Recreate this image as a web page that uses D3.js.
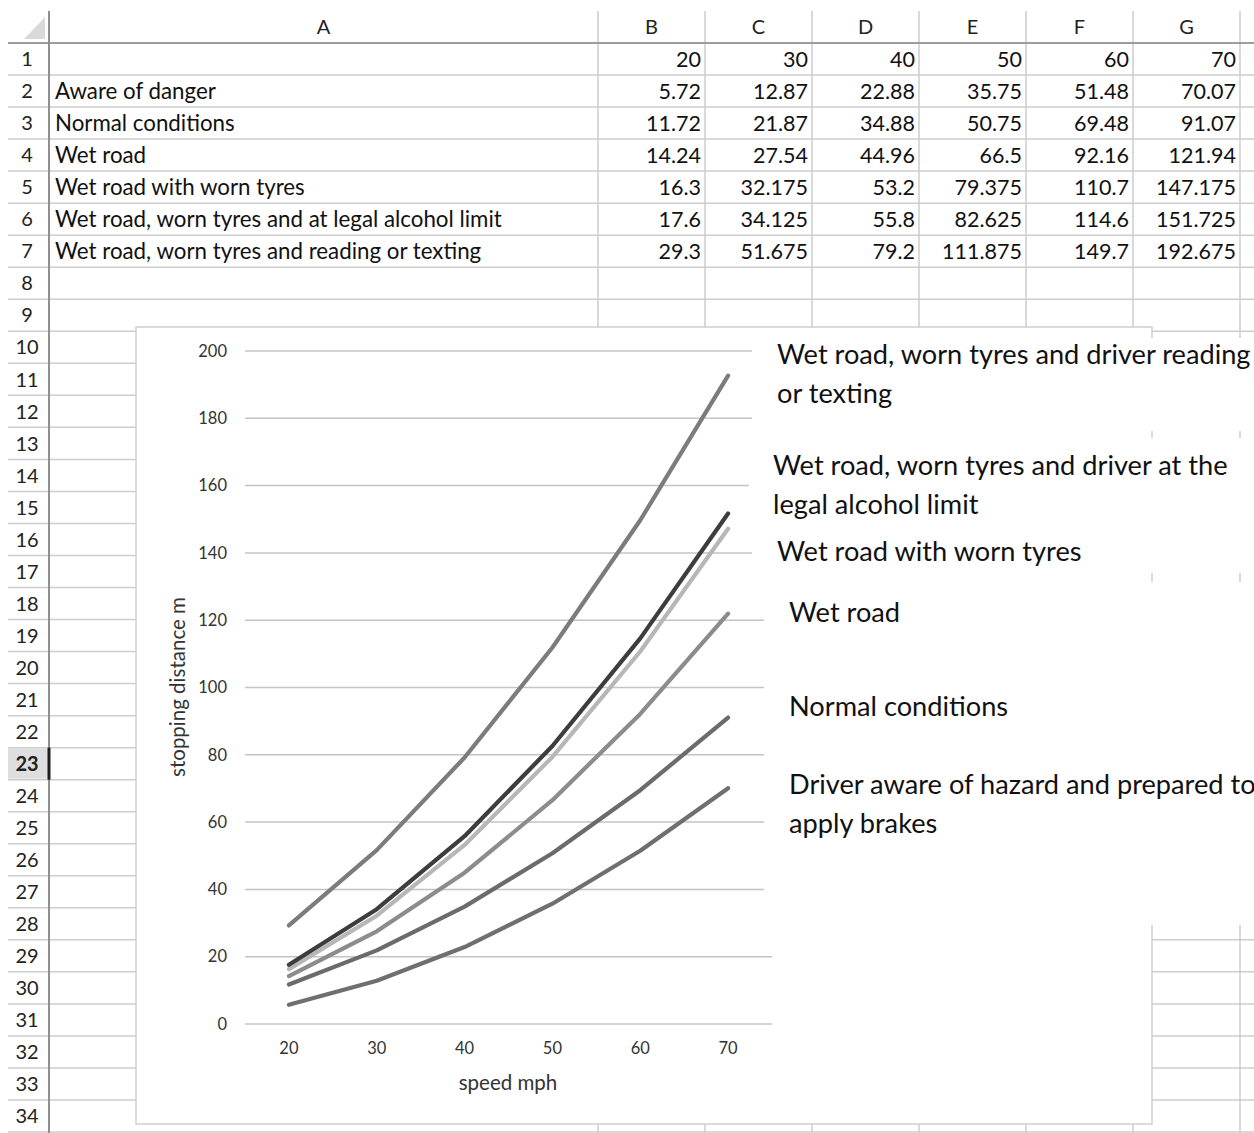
<!DOCTYPE html>
<html>
<head>
<meta charset="utf-8">
<script src="https://cdn.jsdelivr.net/npm/d3@7"></script>
<style>
  body { margin: 0; background: #fff; }
  svg { display: block; font-family: Lato, "Open Sans", sans-serif; }
</style>
</head>
<body>
<svg id="sheet" width="1254" height="1133"></svg>
<script>
// ---- data ----
const speeds = [20, 30, 40, 50, 60, 70];
const tableLabels = [
  "Aware of danger",
  "Normal conditions",
  "Wet road",
  "Wet road with worn tyres",
  "Wet road, worn tyres and at legal alcohol limit",
  "Wet road, worn tyres and reading or texting"
];
const awareOfDanger    = [5.72, 12.87, 22.88, 35.75, 51.48, 70.07];
const normalConditions = [11.72, 21.87, 34.88, 50.75, 69.48, 91.07];
const wetRoad          = [14.24, 27.54, 44.96, 66.5, 92.16, 121.94];
const wornTyres        = [16.3, 32.175, 53.2, 79.375, 110.7, 147.175];
const alcoholLimit     = [17.6, 34.125, 55.8, 82.625, 114.6, 151.725];
const readingTexting   = [29.3, 51.675, 79.2, 111.875, 149.7, 192.675];
const yTicks = [0, 20, 40, 60, 80, 100, 120, 140, 160, 180, 200];
const columnLetters = ["A", "B", "C", "D", "E", "F", "G"];
const noteTexts = [
  ["Wet road, worn tyres and driver reading", "or texting"],
  ["Wet road, worn tyres and driver at the", "legal alcohol limit"],
  ["Wet road with worn tyres"],
  ["Wet road"],
  ["Normal conditions"],
  ["Driver aware of hazard and prepared to", "apply brakes"]
];

const seriesValues = [awareOfDanger, normalConditions, wetRoad, wornTyres, alcoholLimit, readingTexting];
const seriesColors = ["#6f6f6f", "#6b6b6b", "#8c8c8c", "#b7b7b7", "#3d3d3d", "#7c7c7c"];

const svg = d3.select("#sheet");
const W = 1254, H = 1133;

// ---- worksheet grid ----
const colEdges = [49, 598, 705, 812, 919, 1026, 1133, 1240];
const headerTop = 11, headerBottom = 43;
const rowH = 32.03;
const rowTop = r => headerBottom + (r - 1) * rowH;
const rowMid = r => rowTop(r) + rowH / 2;
const nRows = 34;
const gridColor = "#cdcdcd";

const grid = svg.append("g");
// horizontal row lines
for (let r = 1; r <= nRows; r++) {
  grid.append("line").attr("x1", 8).attr("x2", W)
    .attr("y1", rowTop(r + 1)).attr("y2", rowTop(r + 1))
    .attr("stroke", gridColor).attr("stroke-width", 1.5);
}
// vertical column lines
colEdges.slice(1).forEach(x => {
  grid.append("line").attr("x1", x).attr("x2", x)
    .attr("y1", headerTop).attr("y2", H)
    .attr("stroke", gridColor).attr("stroke-width", 1.5);
});
// selected row header highlight
grid.append("rect").attr("x", 8).attr("y", rowTop(23) + 1)
  .attr("width", 40).attr("height", rowH - 2).attr("fill", "#dedede");
// header frame lines
grid.append("line").attr("x1", 8).attr("x2", W).attr("y1", headerBottom).attr("y2", headerBottom)
  .attr("stroke", "#9c9c9c").attr("stroke-width", 2);
grid.append("line").attr("x1", 49).attr("x2", 49).attr("y1", headerTop).attr("y2", H)
  .attr("stroke", "#8f8f8f").attr("stroke-width", 2);
grid.append("line").attr("x1", 49).attr("x2", 49).attr("y1", rowTop(23)).attr("y2", rowTop(24))
  .attr("stroke", "#1f1f1f").attr("stroke-width", 3);
// corner triangle
grid.append("path").attr("d", "M24,39 L45,39 L45,17 Z").attr("fill", "#d9d9d9");

// column letters
columnLetters.forEach((c, i) => {
  grid.append("text").attr("x", (colEdges[i] + colEdges[i + 1]) / 2).attr("y", 27)
    .attr("dy", "0.36em").attr("text-anchor", "middle")
    .attr("font-size", 20).attr("fill", "#222").text(c);
});
// row numbers
for (let r = 1; r <= nRows; r++) {
  grid.append("text").attr("x", 27).attr("y", rowMid(r)).attr("dy", "0.36em")
    .attr("text-anchor", "middle").attr("font-size", 20)
    .attr("font-weight", r === 23 ? 700 : 400).attr("fill", "#222").text(r);
}

// ---- table contents ----
const cells = svg.append("g").attr("fill", "#111");
speeds.forEach((s, j) => {
  cells.append("text").attr("x", colEdges[j + 2] - 4).attr("y", rowMid(1)).attr("dy", "0.36em")
    .attr("font-size", 21.5).attr("text-anchor", "end").text(s);
});
tableLabels.forEach((lab, i) => {
  const r = i + 2;
  cells.append("text").attr("x", 55).attr("y", rowMid(r)).attr("dy", "0.36em")
    .attr("font-size", 22.3).text(lab);
  seriesValues[i].forEach((v, j) => {
    cells.append("text").attr("x", colEdges[j + 2] - 4).attr("y", rowMid(r)).attr("dy", "0.36em")
      .attr("font-size", 21.5).attr("text-anchor", "end").text(String(v));
  });
});

// ---- chart ----
const chart = svg.append("g");
chart.append("rect").attr("x", 136).attr("y", 327).attr("width", 1016).attr("height", 797)
  .attr("fill", "#fff").attr("stroke", "#cfcfcf").attr("stroke-width", 1.5);

const x = d3.scaleBand().domain(speeds).range([245, 772]);
const y = d3.scaleLinear().domain([0, 200]).range([1024, 351]);
const xc = d => x(d) + x.bandwidth() / 2;

// gridlines
chart.append("g").selectAll("line").data(yTicks).join("line")
  .attr("x1", 245).attr("x2", 772)
  .attr("y1", d => y(d)).attr("y2", d => y(d))
  .attr("stroke", "#c4c4c4").attr("stroke-width", 1.5);

// y axis labels
const yAxis = d3.axisLeft(y).tickValues(yTicks).tickSize(0).tickPadding(0);
chart.append("g").attr("transform", "translate(227,0)").call(yAxis)
  .call(g => g.select(".domain").remove())
  .call(g => g.selectAll("text").attr("font-size", 16.5).attr("fill", "#333")
    .attr("font-family", "Lato, 'Open Sans', sans-serif"));

// x axis labels
const xAxis = d3.axisBottom(x).tickSize(0).tickPadding(0);
chart.append("g").attr("transform", "translate(0,1042)").call(xAxis)
  .call(g => g.select(".domain").remove())
  .call(g => g.selectAll("text").attr("font-size", 16.5).attr("fill", "#333")
    .attr("font-family", "Lato, 'Open Sans', sans-serif"));

chart.append("text").attr("x", 508).attr("y", 1083).attr("dy", "0.36em")
  .attr("text-anchor", "middle").attr("font-size", 20.5).attr("fill", "#333").text("speed mph");
chart.append("text").attr("transform", "translate(178,687) rotate(-90)").attr("dy", "0.36em")
  .attr("text-anchor", "middle").attr("font-size", 20.5).attr("fill", "#333").text("stopping distance m");

// series lines
const line = d3.line().x((d, j) => xc(speeds[j])).y(d => y(d));
seriesValues.forEach((vals, i) => {
  chart.append("path").datum(vals).attr("d", line)
    .attr("fill", "none").attr("stroke", seriesColors[i]).attr("stroke-width", 4.2)
    .attr("stroke-linecap", "round").attr("stroke-linejoin", "round");
});

// ---- text boxes beside the chart ----
const notes = svg.append("g");
const boxes = [
  { x: 752, y0: 338, y1: 431, ty: 354 },
  { x: 749, y0: 438, y1: 525, ty: 465 },
  { x: 752, y0: 525, y1: 573, ty: 551 },
  { x: 764, y0: 582, y1: 660, ty: 612 },
  { x: 764, y0: 660, y1: 745, ty: 706 },
  { x: 764, y0: 745, y1: 925, ty: 784 }
];
const textX = [777, 773, 777, 789, 789, 789];
boxes.forEach((b, k) => {
  notes.append("rect").attr("x", b.x).attr("y", b.y0).attr("width", W - b.x + 5)
    .attr("height", b.y1 - b.y0).attr("fill", "#fff");
  const t = notes.append("text").attr("font-size", 27.2).attr("fill", "#111");
  noteTexts[k].forEach((ln, li) => {
    t.append("tspan").attr("x", textX[k]).attr("y", b.ty + li * 39).attr("dy", "0.36em").text(ln);
  });
});
</script>
</body>
</html>
